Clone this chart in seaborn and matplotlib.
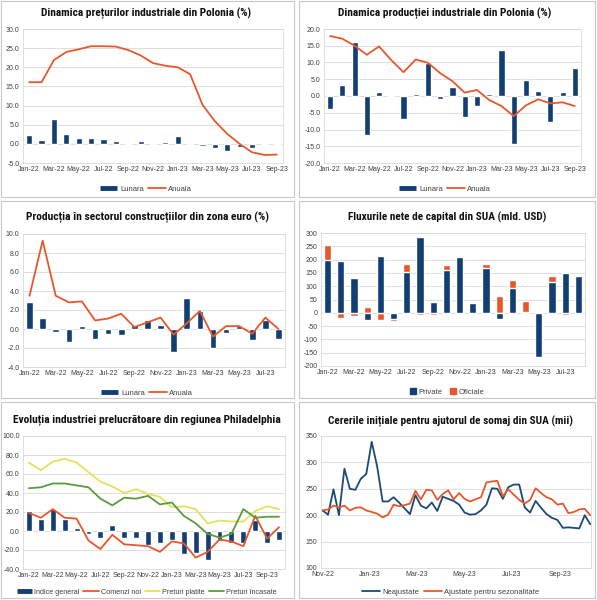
import numpy as np
import pandas as pd
import matplotlib
matplotlib.use("Agg")
import matplotlib.pyplot as plt
from matplotlib.lines import Line2D
from matplotlib.patches import Patch, Rectangle
import seaborn as sns

# month labels (categories)
months = ["Jan-22", "Feb-22", "Mar-22", "Apr-22", "May-22", "Jun-22", "Jul-22", "Aug-22",
          "Sep-22", "Oct-22", "Nov-22", "Dec-22", "Jan-23", "Feb-23", "Mar-23", "Apr-23",
          "May-23", "Jun-23", "Jul-23", "Aug-23", "Sep-23", "Oct-23"]

# 1. Poland producer prices
pl_ppi_monthly = [2.3, 1.1, 6.6, 2.5, 1.4, 1.6, 1.3, 0.7, 0.1, 0.8, -0.2, 0.5,
                  2.0, -0.4, -0.5, -1.2, -1.8, -0.7, -1.0, 0.0, 0.2]
pl_ppi_annual = [16.1, 16.1, 21.9, 24.0, 24.7, 25.5, 25.5, 25.4, 24.5, 23.1, 21.1, 20.4,
                 20.0, 18.2, 10.2, 5.9, 2.6, 0.0, -2.2, -2.9, -2.8]

# 2. Poland industrial production
pl_ip_monthly = [-3.9, 3.3, 16.1, -11.6, 1.2, -0.2, -6.9, 0.6, 9.8, -0.8, 2.7, -6.3,
                 -3.1, 0.6, 13.8, -14.3, 4.7, 1.5, -7.9, 1.1, 8.3]
pl_ip_annual = [17.9, 17.1, 15.0, 12.3, 14.8, 10.7, 7.1, 10.9, 9.9, 6.8, 4.4, 1.0,
                1.8, -1.2, -3.0, -6.0, -2.8, -1.0, -2.2, -1.9, -3.0]

# 3. Euro area construction
ez_con_monthly = [2.8, 1.2, -0.3, -1.4, 0.3, -1.0, -0.5, -0.6, 0.4, 1.0, 0.4, -2.4,
                  3.3, 1.9, -2.0, -0.4, 0.3, -1.2, 1.0, -1.1]
ez_con_annual = [3.5, 9.3, 3.5, 2.8, 2.9, 0.9, 1.1, 1.6, 0.2, 0.7, 1.2, -0.6,
                 0.6, 1.9, -0.8, 0.3, 0.3, -0.5, 1.2, 0.0]

# 4. US net capital flows
tic_private = [198, 195, 130, -28, 215, -22, 155, 285, 42, 160, 208, 38,
               167, -25, 92, 2, -165, 115, 150, 140]
tic_official = [57, -20, -12, 20, -28, -10, 30, -10, -10, 18, 6, -6,
                18, 63, 30, 43, 0, 23, -8, -6]

# 5. Philadelphia Fed
philly_general = [21, 12.5, 23, 13, 3, -3, -7, 6, -7, -7, -15, -13,
                  -9, -24, -23, -31, -10, -13, -13, 12, -13, -9]
philly_new_orders = [19, 14, 23, 14, 13, -10, -19, -4, -14, -15, -16, -22,
                     -11, -13, -28, -22, -9, -11, -16, 16, -8, 4]
philly_prices_paid = [72, 64, 73, 76, 72, 62, 52, 47, 40, 44, 39, 36,
                      25, 26, 23, 8, 11, 10, 10, 21, 26, 23]
philly_prices_recv = [45, 46, 50, 50, 48, 46, 34, 27, 35, 34, 37, 28,
                      30, 16, 8, -3, -7, -3, 23, 14, 15, 15]

# 6. US initial jobless claims (weekly, thousands)
claims_start = "2022-11-01"
claims_nsa = [209, 201, 249, 200, 288, 250, 248, 269, 278, 339, 292, 226, 226,
              234, 224, 213, 202, 238, 218, 213, 224, 208, 235, 231, 227, 220,
              205, 201, 202, 209, 220, 251, 250, 231, 253, 258, 258, 215, 205,
              227, 214, 202, 195, 191, 176, 177, 176, 175, 200, 183]
claims_sa = [209, 211, 218, 215, 218, 209, 214, 215, 209, 206, 203, 196, 201,
             220, 217, 219, 222, 246, 230, 248, 247, 229, 240, 247, 230, 242,
             231, 226, 230, 234, 262, 264, 265, 236, 249, 239, 229, 222, 229,
             251, 242, 234, 230, 220, 222, 204, 206, 211, 212, 200]

NAVY = "#123e73"
ORANGE = "#e8572c"
YELLOW = "#e6e05a"
GREEN = "#5b9a3c"
BLUE6 = "#1d4a75"
GRID = "#d9d9d9"
TXT = "#404040"

sns.set_theme(style="white")
plt.rcParams["font.family"] = ["Liberation Sans", "DejaVu Sans"]
TITLE_FONT = ["Roboto Condensed", "Liberation Sans Narrow", "DejaVu Sans"]

W, H = 597, 600
fig = plt.figure(figsize=(W / 100, H / 100), dpi=100)
renderer = fig.canvas.get_renderer()

LEG = dict(loc="center", frameon=False, fontsize=5.5, handlelength=2.3,
           handletextpad=0.35, columnspacing=0.6, labelcolor=TXT)


def px_axes(l, t, r, b):
    return fig.add_axes([l / W, 1 - b / H, (r - l) / W, (b - t) / H])


def style_ax(ax, ylim, step, fmt):
    ax.set_ylim(*ylim)
    ax.set_yticks(np.arange(ylim[0], ylim[1] + step / 2, step))
    ax.set_yticklabels([fmt.format(v) for v in ax.get_yticks()])
    ax.yaxis.grid(True, color=GRID, lw=0.6)
    ax.xaxis.grid(False)
    ax.set_axisbelow(True)
    for s in ax.spines.values():
        s.set_color(GRID)
        s.set_linewidth(0.6)
    ax.tick_params(labelsize=5, colors=TXT, length=0, pad=2.5)
    ax.set_xlabel("")
    ax.set_ylabel("")


def month_ticks(ax, n):
    ax.set_xlim(-0.5, n - 0.5)
    ax.set_xticks(range(0, n, 2))
    ax.set_xticklabels(months[0:n:2])


def title(x, y, text, width):
    # shrink the title until it fits the width it has in the reference
    t = fig.text(x / W, 1 - y / H, text, ha="center", va="center", fontsize=8.5,
                 fontweight="bold", family=TITLE_FONT, fontstretch="condensed",
                 color="#111111")
    w = t.get_window_extent(renderer).width
    if w > width:
        t.set_fontsize(8.5 * width / w)


def box(l, t, r, b):
    fig.add_artist(Rectangle((l / W, 1 - b / H), (r - l) / W, (b - t) / H,
                             transform=fig.transFigure, fill=False,
                             edgecolor="#c8c8c8", lw=0.8))


def bar_handle(color):
    return Line2D([], [], color=color, lw=3.5, solid_capstyle="butt")


def line_handle(color):
    return Line2D([], [], color=color, lw=1.3)


def bar_line_panel(ax, bars, line, ylim, step):
    n = len(bars)
    pos = np.arange(n)
    sns.barplot(x=pos, y=bars, native_scale=True, color=NAVY, saturation=1,
                width=0.5, errorbar=None, ax=ax)
    sns.lineplot(x=pos, y=line, color=ORANGE, lw=1.3, ax=ax)
    style_ax(ax, ylim, step, "{:.1f}")
    month_ticks(ax, n)


def lunara_legend(x, y):
    fig.legend([bar_handle(NAVY), line_handle(ORANGE)], ["Lunara", "Anuala"],
               ncol=2, bbox_to_anchor=(x / W, 1 - y / H), **LEG)


for l, t, r, b in [(1, 1, 294, 197), (299, 1, 595, 197), (1, 201, 294, 398),
                   (299, 201, 595, 398), (1, 402, 294, 598), (299, 402, 595, 598)]:
    box(l, t, r, b)

# panel 1
ax1 = px_axes(23, 29, 283, 163)
bar_line_panel(ax1, pl_ppi_monthly, pl_ppi_annual, (-5, 30), 5)
title(146, 13, "Dinamica prețurilor industriale din Polonia (%)", 208)
lunara_legend(146, 189)

# panel 2
ax2 = px_axes(324, 29, 581, 163)
bar_line_panel(ax2, pl_ip_monthly, pl_ip_annual, (-20, 20), 5)
title(445, 13, "Dinamica producției industriale din Polonia (%)", 212)
lunara_legend(445, 189)

# panel 3
ax3 = px_axes(23, 234, 285, 367)
bar_line_panel(ax3, ez_con_monthly, ez_con_annual, (-4, 10), 2)
title(147, 217, "Producția în sectorul construcțiilor din zona euro (%)", 240)
lunara_legend(147, 393)

# panel 4 - stacked bars, positive and negative parts stacked separately
ax4 = px_axes(321, 233, 585, 366)
priv = np.array(tic_private, dtype=float)
offi = np.array(tic_official, dtype=float)
pos4 = np.arange(len(priv))
base = np.where(np.sign(priv) == np.sign(offi), priv, 0)
sns.barplot(x=pos4, y=base + offi, native_scale=True, color=ORANGE, saturation=1,
            width=0.55, errorbar=None, ax=ax4)
sns.barplot(x=pos4, y=priv, native_scale=True, color=NAVY, saturation=1,
            width=0.55, errorbar=None, ax=ax4)
style_ax(ax4, (-200, 300), 50, "{:.0f}")
month_ticks(ax4, len(priv))
title(447, 217, "Fluxurile nete de capital din SUA (mld. USD)", 198)
fig.legend([Patch(color=NAVY), Patch(color=ORANGE)], ["Private", "Oficiale"],
           ncol=2, bbox_to_anchor=(447 / W, 1 - 392 / H),
           **{**LEG, "handlelength": 0.8, "handleheight": 0.8, "columnspacing": 1.0})

# panel 5
ax5 = px_axes(23, 436, 285, 569)
pos5 = np.arange(len(philly_general))
sns.barplot(x=pos5, y=philly_general, native_scale=True, color=NAVY, saturation=1,
            width=0.5, errorbar=None, ax=ax5)
sns.lineplot(x=pos5, y=philly_new_orders, color=ORANGE, lw=1.3, ax=ax5)
sns.lineplot(x=pos5, y=philly_prices_paid, color=YELLOW, lw=1.3, ax=ax5)
sns.lineplot(x=pos5, y=philly_prices_recv, color=GREEN, lw=1.3, ax=ax5)
style_ax(ax5, (-40, 100), 20, "{:.1f}")
month_ticks(ax5, len(philly_general))
title(147, 420, "Evoluția industriei prelucrătoare din regiunea Philadelphia", 265)
fig.legend([bar_handle(NAVY), line_handle(ORANGE), line_handle(YELLOW), line_handle(GREEN)],
           ["Indice general", "Comenzi noi", "Preturi platite", "Preturi încasate"],
           ncol=4, bbox_to_anchor=(147 / W, 1 - 592 / H),
           **{**LEG, "fontsize": 5.2, "handlelength": 2.1, "columnspacing": 0.5})

# panel 6
ax6 = px_axes(321, 436, 591, 568)
dates = pd.date_range(claims_start, periods=len(claims_nsa), freq="7D")
sns.lineplot(x=dates, y=claims_nsa, color=BLUE6, lw=1.3, ax=ax6)
sns.lineplot(x=dates, y=claims_sa, color=ORANGE, lw=1.3, ax=ax6)
style_ax(ax6, (100, 350), 50, "{:.0f}")
ax6.set_xlim(dates[0] - pd.Timedelta(days=2), dates[-1] + pd.Timedelta(days=1))
ticks6 = pd.date_range("2022-11-01", "2023-09-01", freq="2MS")
ax6.set_xticks(ticks6)
ax6.set_xticklabels([d.strftime("%b-%y") for d in ticks6])
title(451, 421, "Cererile inițiale pentru ajutorul de somaj din SUA (mii)", 245)
fig.legend([line_handle(BLUE6), line_handle(ORANGE)],
           ["Neajustate", "Ajustate pentru sezonalitate"],
           ncol=2, bbox_to_anchor=(451 / W, 1 - 592 / H), **LEG)

fig.savefig("out.png", dpi=100)
